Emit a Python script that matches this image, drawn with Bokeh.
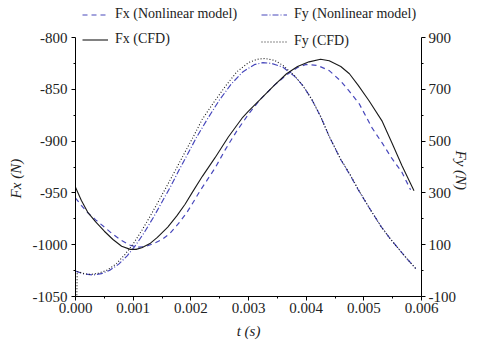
import math
from bokeh.plotting import figure
from bokeh.models import (Range1d, LinearAxis, FixedTicker, PrintfTickFormatter,
                          Legend, LegendItem)
from bokeh.embed import file_html
from bokeh.resources import INLINE

# ---------------- data ----------------
t_fx_cfd = [0.0, 0.00010, 0.00021, 0.00035, 0.00050, 0.00065, 0.00080, 0.00095, 0.00105,
            0.00115, 0.00130, 0.00142, 0.00160, 0.00176, 0.00190, 0.00202, 0.00220,
            0.00242, 0.00265, 0.00290, 0.00300, 0.00320, 0.00345, 0.00366, 0.00385,
            0.00405, 0.00425, 0.00440, 0.00460, 0.00475, 0.00490, 0.00509, 0.00532,
            0.00549, 0.00566, 0.00587]
fx_cfd = [-944.5, -957, -968.5, -978, -987, -995, -1001.5, -1004.5, -1004.5,
          -1003, -998.5, -993, -983, -972, -961, -950, -934,
          -916, -896, -877, -871, -860, -846, -835, -828,
          -823.5, -821, -822.5, -828, -835, -846, -861, -881,
          -902, -923.5, -948]

t_fx_nl = [0.0, 0.00010, 0.00021, 0.00035, 0.00050, 0.00065, 0.00080, 0.00095, 0.00107,
           0.00120, 0.00135, 0.00150, 0.00164, 0.00178, 0.00193, 0.00202, 0.00216,
           0.00242, 0.00260, 0.00280, 0.00300, 0.00320, 0.00345, 0.00366, 0.00385,
           0.00400, 0.00420, 0.00440, 0.00460, 0.00475, 0.00492, 0.00514, 0.00532,
           0.00549, 0.00566, 0.00581]
fx_nl = [-955, -962, -969, -976, -983, -990, -996, -1000.5, -1002.5,
         -1002, -999, -995, -989, -980, -969, -961, -948,
         -926, -908, -890, -874, -860, -846, -836, -829,
         -826, -827, -832, -842, -852, -864, -887, -902,
         -917, -930, -947]

t_fy_cfd = [0.00002, 0.00003, 0.00015, 0.00026, 0.00040, 0.00055, 0.00070, 0.00085,
            0.00100, 0.00115, 0.00130, 0.00145, 0.00160, 0.00175, 0.00190, 0.00205,
            0.00220, 0.00240, 0.00260, 0.00280, 0.00300, 0.00315, 0.00328, 0.00345,
            0.00360, 0.00380, 0.00395, 0.00410, 0.00425, 0.00440, 0.00460, 0.00475,
            0.00490, 0.00510, 0.00530, 0.00545, 0.00560, 0.00575, 0.00590]
fy_cfd = [-130, -3, -12, -15, -10, 2, 25, 60,
          103, 155, 212, 272, 333, 395, 458, 520,
          585, 650, 712, 768, 803, 816, 819, 812,
          792, 752, 712, 660, 595, 518, 430, 376,
          315, 240, 170, 125, 85, 45, 8]

t_fy_nl = [0.0, 0.00015, 0.00030, 0.00045, 0.00060, 0.00075, 0.00090, 0.00105,
           0.00120, 0.00135, 0.00150, 0.00165, 0.00180, 0.00195, 0.00210, 0.00230,
           0.00250, 0.00270, 0.00290, 0.00310, 0.00325, 0.00340, 0.00360, 0.00380,
           0.00395, 0.00410, 0.00425, 0.00440, 0.00460, 0.00475, 0.00490, 0.00510,
           0.00530, 0.00545, 0.00560, 0.00575, 0.00590]
fy_nl = [-2, -13, -17, -12, 2, 25, 58, 100,
         150, 205, 265, 325, 390, 452, 515, 590,
         660, 720, 767, 795, 803, 800, 785, 750,
         712, 660, 595, 518, 428, 373, 313, 240,
         170, 125, 85, 45, 8]

x_ticks = [0.0, 0.001, 0.002, 0.003, 0.004, 0.005, 0.006]
x_minor = [0.0005, 0.0015, 0.0025, 0.0035, 0.0045, 0.0055]
fx_ticks = [-1050, -1000, -950, -900, -850, -800]
fx_minor = [-1025, -975, -925, -875, -825]
fy_ticks = [-100, 100, 300, 500, 700, 900]
fy_minor = [0, 200, 400, 600, 800]

FONT = "Liberation Serif"
FS = "15px"
LFS = "14px"
BLUE = "#4848bc"
BLACK = "#1a1a1a"
NB = "\u00a0"

# layout: axes span 259 px; the frame extends 33 px higher to hold the legend
AX_PX = 259
EXTRA_PX = 33
fx_lo, fx_hi = fx_ticks[0], fx_ticks[-1]
fy_lo, fy_hi = fy_ticks[0], fy_ticks[-1]
fx_top = fx_hi + (fx_hi - fx_lo) * EXTRA_PX / AX_PX
fy_top = fy_hi + (fy_hi - fy_lo) * EXTRA_PX / AX_PX

p = figure(width=479, height=344, output_backend="svg", toolbar_location=None,
           x_range=Range1d(x_ticks[0], x_ticks[-1]), y_range=Range1d(fx_lo, fx_top),
           min_border_left=75, min_border_right=57, min_border_top=4, min_border_bottom=48,
           background_fill_color="white", border_fill_color="white")
p.extra_y_ranges = {"fy": Range1d(fy_lo, fy_top)}
p.outline_line_color = None
p.xgrid.visible = False
p.ygrid.visible = False

def style_axis(ax, ticks, minor, fmt, title):
    ax.ticker = FixedTicker(ticks=ticks, minor_ticks=minor)
    ax.formatter = PrintfTickFormatter(format=fmt)
    ax.axis_line_color = "black"
    ax.axis_line_width = 1
    ax.major_tick_line_color = "black"
    ax.minor_tick_line_color = "black"
    ax.major_tick_out = 4
    ax.major_tick_in = 0
    ax.minor_tick_out = 2
    ax.minor_tick_in = 0
    ax.major_label_text_font = FONT
    ax.major_label_text_font_size = FS
    ax.major_label_text_color = "#222222"
    ax.axis_label = title
    ax.axis_label_text_font = FONT
    ax.axis_label_text_font_size = FS
    ax.axis_label_text_font_style = "italic"
    ax.axis_label_text_color = "#222222"

style_axis(p.xaxis[0], x_ticks, x_minor, "%.3f", "t (s)")
p.xaxis[0].major_label_standoff = 2
p.xaxis[0].axis_label_standoff = 7

# no-break spaces move the (frame-centred) titles down to the axis middle
style_axis(p.yaxis[0], fx_ticks, fx_minor, "%d", "Fx (N)" + NB * 15)
p.yaxis[0].bounds = (fx_lo, fx_hi)
p.yaxis[0].major_label_standoff = 4
p.yaxis[0].axis_label_standoff = 6

ry = LinearAxis(y_range_name="fy")
if "axis_label_orientation" in LinearAxis.properties():
    ry_title = "Fy (N)" + NB * 21          # reads bottom-to-top
    ry.axis_label_orientation = -math.pi / 2
else:
    ry_title = NB * 21 + "Fy (N)"          # reads top-to-bottom
style_axis(ry, fy_ticks, fy_minor, "%d", ry_title)
ry.bounds = (fy_lo, fy_hi)
ry.major_label_standoff = 3
ry.axis_label_standoff = 2
p.add_layout(ry, "right")

r_fx_nl = p.line(t_fx_nl, fx_nl, line_color=BLUE, line_width=1.2, line_dash="5 4")
r_fy_nl = p.line(t_fy_nl, fy_nl, line_color=BLUE, line_width=1.2, line_dash="6 2 1 2",
                 y_range_name="fy")
r_fx_cfd = p.line(t_fx_cfd, fx_cfd, line_color=BLACK, line_width=1.1)
r_fy_cfd = p.line(t_fy_cfd, fy_cfd, line_color=BLACK, line_width=1.1, line_dash="1 2",
                  y_range_name="fy")

def add_leg(label, r, x, y):
    lg = Legend(items=[LegendItem(label=label, renderers=[r])], location=(x, y),
                glyph_width=26, glyph_height=15, label_standoff=7, padding=0, margin=0,
                spacing=0, border_line_color=None, background_fill_alpha=0,
                label_text_font=FONT, label_text_font_size=LFS, label_height=15,
                label_text_color="#222222")
    p.add_layout(lg, "center")

add_leg("Fx (Nonlinear model)", r_fx_nl, 7, 274)
add_leg("Fy (Nonlinear model)", r_fy_nl, 186, 274)
add_leg("Fx (CFD)", r_fx_cfd, 7, 249)
add_leg("Fy (CFD)", r_fy_cfd, 186, 247)

open("out.html", "w").write(file_html(p, INLINE))
